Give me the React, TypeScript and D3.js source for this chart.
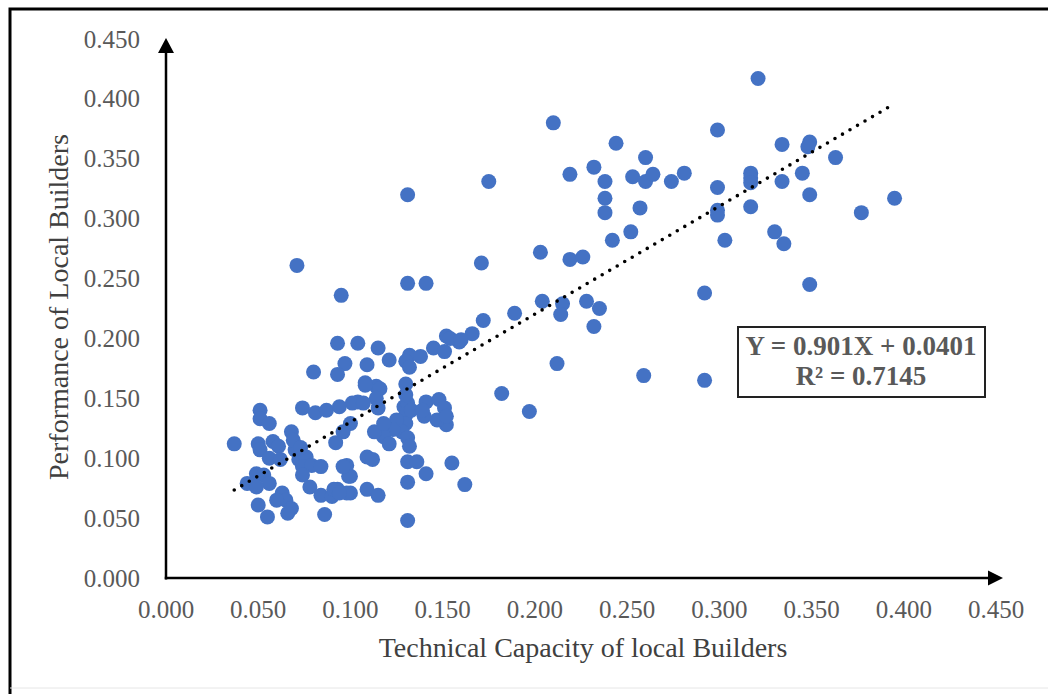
import React from "react";
import * as d3 from "d3";

// Technical Capacity of local Builders (x)
const techCapacity: number[] = [
  0.321, 0.210, 0.299, 0.244, 0.334, 0.349, 0.348, 0.363, 0.260, 0.219,
  0.232, 0.238, 0.253, 0.260, 0.264, 0.274, 0.281, 0.299, 0.317, 0.317,
  0.317, 0.334, 0.345, 0.349, 0.395, 0.377, 0.317, 0.299, 0.299, 0.238,
  0.238, 0.257, 0.252, 0.242, 0.303, 0.330, 0.335, 0.203, 0.219, 0.226,
  0.349, 0.292, 0.204, 0.215, 0.214, 0.228, 0.235, 0.232, 0.189, 0.172,
  0.212, 0.259, 0.292, 0.182, 0.197, 0.131, 0.175, 0.071, 0.171, 0.095,
  0.131, 0.141,
  0.093, 0.104, 0.115, 0.121, 0.132, 0.138, 0.145, 0.152, 0.159, 0.166,
  0.151, 0.080, 0.097, 0.109, 0.130, 0.093, 0.108, 0.114, 0.130, 0.116,
  0.154, 0.160,
  0.129, 0.131, 0.130, 0.130, 0.128, 0.131, 0.132, 0.125, 0.123, 0.118,
  0.113, 0.121, 0.118, 0.132, 0.130, 0.133,
  0.141, 0.148, 0.151, 0.152, 0.147, 0.140, 0.139, 0.152,
  0.104, 0.101, 0.114, 0.115, 0.100, 0.108,
  0.074, 0.081, 0.087, 0.094, 0.107,
  0.109, 0.112, 0.131, 0.136, 0.141, 0.155, 0.162, 0.131, 0.100, 0.100,
  0.109, 0.115, 0.131,
  0.051, 0.051, 0.056, 0.068, 0.037, 0.050, 0.051, 0.058, 0.061, 0.056,
  0.062, 0.070, 0.072, 0.076, 0.074, 0.079, 0.084, 0.074, 0.078, 0.084,
  0.090, 0.093, 0.098, 0.098, 0.099, 0.044, 0.049, 0.053, 0.056, 0.049,
  0.063, 0.065, 0.068, 0.066, 0.050, 0.055, 0.086, 0.060, 0.069, 0.073,
  0.096, 0.091, 0.094, 0.096, 0.092,
];

// Performance of Local Builders (y)
const performance: number[] = [
  0.417, 0.380, 0.374, 0.363, 0.362, 0.364, 0.360, 0.351, 0.351, 0.337,
  0.343, 0.331, 0.335, 0.331, 0.337, 0.331, 0.338, 0.326, 0.338, 0.334,
  0.330, 0.331, 0.338, 0.320, 0.317, 0.305, 0.310, 0.307, 0.303, 0.317,
  0.305, 0.309, 0.289, 0.282, 0.282, 0.289, 0.279, 0.272, 0.266, 0.268,
  0.245, 0.238, 0.231, 0.229, 0.220, 0.231, 0.225, 0.210, 0.221, 0.215,
  0.179, 0.169, 0.165, 0.154, 0.139, 0.320, 0.331, 0.261, 0.263, 0.236,
  0.246, 0.246,
  0.196, 0.196, 0.192, 0.182, 0.186, 0.185, 0.192, 0.202, 0.197, 0.204,
  0.189, 0.172, 0.179, 0.178, 0.181, 0.170, 0.163, 0.160, 0.162, 0.158,
  0.200, 0.199,
  0.143, 0.146, 0.136, 0.129, 0.122, 0.117, 0.110, 0.132, 0.124, 0.118,
  0.122, 0.112, 0.129, 0.176, 0.153, 0.140,
  0.147, 0.149, 0.142, 0.128, 0.132, 0.135, 0.140, 0.135,
  0.147, 0.146, 0.150, 0.142, 0.129, 0.161,
  0.142, 0.138, 0.140, 0.143, 0.146,
  0.101, 0.099, 0.097, 0.097, 0.087, 0.096, 0.078, 0.080, 0.085, 0.071,
  0.074, 0.069, 0.048,
  0.140, 0.133, 0.129, 0.122, 0.112, 0.112, 0.107, 0.114, 0.110, 0.100,
  0.099, 0.107, 0.099, 0.101, 0.093, 0.094, 0.093, 0.086, 0.076, 0.069,
  0.068, 0.074, 0.071, 0.094, 0.085, 0.079, 0.087, 0.086, 0.079, 0.076,
  0.071, 0.065, 0.058, 0.054, 0.061, 0.051, 0.053, 0.065, 0.115, 0.109,
  0.093, 0.074, 0.071, 0.122, 0.113,
];

const xTicks: number[] = [0, 0.05, 0.1, 0.15, 0.2, 0.25, 0.3, 0.35, 0.4, 0.45];
const yTicks: number[] = [0, 0.05, 0.1, 0.15, 0.2, 0.25, 0.3, 0.35, 0.4, 0.45];

const trendSlope = 0.901;
const trendIntercept = 0.0401;
const trendRange: number[] = [0.037, 0.392];
const equationLines: string[] = ["Y = 0.901X + 0.0401", "R² = 0.7145"];

const xTitle = "Technical Capacity of local Builders";
const yTitle = "Performance of Local Builders";

export default function App() {
  const W = 1048;
  const H = 694;
  const x = d3.scaleLinear().domain([0, 0.45]).range([166, 996]);
  const y = d3.scaleLinear().domain([0, 0.45]).range([578, 39]);
  const fmt = d3.format(".3f");
  const serif = "'Liberation Serif', 'Times New Roman', serif";

  const points = techCapacity.map((v, i) => [v, performance[i]] as [number, number]);
  const trendLine = d3
    .line<number>()
    .x((d) => x(d))
    .y((d) => y(trendSlope * d + trendIntercept));

  const x0 = x(0);
  const y0 = y(0);
  const xEnd = 1003;
  const yEnd = 38;

  return (
    <div style={{ position: "absolute", left: 0, top: 0 }}>
      <svg width={W} height={H} style={{ display: "block", background: "#fff" }}>
        {/* outer frame */}
        <path d={`M10,${H} V9 H${W}`} fill="none" stroke="#000" strokeWidth={3} />
        <line x1={10} x2={W} y1={688} y2={688} stroke="#e6e6e6" strokeWidth={1} />

        {/* points */}
        <g fill="#4472C4">
          {points.map((p, i) => (
            <circle key={i} cx={x(p[0])} cy={y(p[1])} r={7.5} />
          ))}
        </g>

        {/* trend line */}
        <path
          d={trendLine(trendRange) || ""}
          fill="none"
          stroke="#000"
          strokeWidth={3.6}
          strokeDasharray="0 8.7"
          strokeLinecap="round"
        />

        {/* axes */}
        <line x1={x0} x2={x0} y1={y0 + 1.5} y2={yEnd + 12} stroke="#000" strokeWidth={2.5} />
        <path d={`M${x0},${yEnd} L${x0 - 8},${yEnd + 15} L${x0 + 8},${yEnd + 15} Z`} fill="#000" />
        <line x1={x0 - 1.25} x2={xEnd - 12} y1={y0} y2={y0} stroke="#000" strokeWidth={2.5} />
        <path d={`M${xEnd},${y0} L${xEnd - 15},${y0 - 7.5} L${xEnd - 15},${y0 + 7.5} Z`} fill="#000" />

        {/* tick labels */}
        <g fontFamily={serif} fontSize={25} fill="#595959">
          {yTicks.map((t) => (
            <text key={"y" + t} x={140} y={y(t) + 8.5} textAnchor="end">
              {fmt(t)}
            </text>
          ))}
          {xTicks.map((t) => (
            <text key={"x" + t} x={x(t)} y={618} textAnchor="middle">
              {fmt(t)}
            </text>
          ))}
        </g>

        {/* axis titles */}
        <text x={583} y={657} textAnchor="middle" fontFamily={serif} fontSize={28} fill="#404040">
          {xTitle}
        </text>
        <text
          transform={`translate(68,307) rotate(-90)`}
          textAnchor="middle"
          fontFamily={serif}
          fontSize={28}
          fill="#404040"
        >
          {yTitle}
        </text>

        {/* equation box */}
        <rect x={738} y={327} width={247} height={70} fill="#fff" stroke="#222" strokeWidth={2} />
        <g fontFamily={serif} fontSize={27} fontWeight="bold" fill="#595959" textAnchor="middle">
          {equationLines.map((s, i) => (
            <text key={i} x={861} y={355 + i * 30}>
              {s}
            </text>
          ))}
        </g>
      </svg>
    </div>
  );
}
